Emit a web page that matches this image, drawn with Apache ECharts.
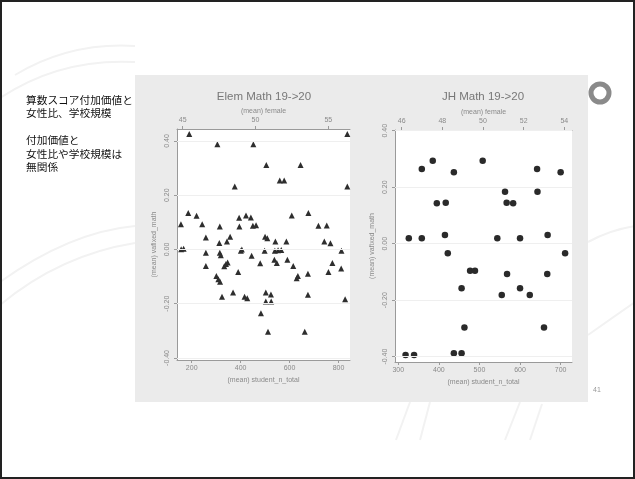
<!DOCTYPE html>
<html><head><meta charset="utf-8">
<script src="https://cdn.jsdelivr.net/npm/echarts@6/dist/echarts.min.js"></script>
<style>html,body{margin:0;padding:0;background:#fff}#c{width:635px;height:479px}</style>
</head><body><div id="c"></div>
<script>
// ---- data ----
const elemStudents = [190,836,305,452,505,645,560,578,376,836,
  186,220,156,243,315,395,394,422,442,450,463,609,677,718,752,
  258,313,344,357,500,509,542,587,742,767,
  157,167,258,315,319,405,401,498,540,553,566,812,
  445,480,538,548,591,615,258,333,340,347,390,629,634,675,759,775,811,
  301,309,316,324,369,416,427,503,524,503,525,675,827,483,512,662];
const elemVA = [0.426,0.426,0.388,0.388,0.311,0.311,0.254,0.254,0.232,0.232,
  0.134,0.124,0.093,0.093,0.085,0.085,0.117,0.125,0.118,0.087,0.089,0.125,0.134,0.087,0.088,
  0.044,0.024,0.029,0.047,0.047,0.041,0.029,0.029,0.029,0.023,
  0.001,0.003,-0.012,-0.012,-0.021,0.000,-0.005,-0.005,-0.005,-0.003,-0.002,-0.005,
  -0.023,-0.051,-0.038,-0.050,-0.038,-0.061,-0.061,-0.062,-0.054,-0.048,-0.083,-0.106,-0.098,-0.090,-0.083,-0.050,-0.070,
  -0.098,-0.110,-0.119,-0.174,-0.159,-0.174,-0.180,-0.159,-0.166,-0.192,-0.192,-0.167,-0.184,-0.235,-0.303,-0.303];

const jhStudents = [385,508,358,437,642,700,563,643,395,417,567,583,
  326,358,415,544,600,668,422,711,477,489,568,667,
  456,555,600,624,463,659,318,339,437,456];
const jhVA = [0.294,0.294,0.264,0.253,0.264,0.253,0.184,0.184,0.143,0.145,0.145,0.143,
  0.019,0.019,0.031,0.019,0.019,0.031,-0.034,-0.034,-0.096,-0.096,-0.107,-0.107,
  -0.158,-0.182,-0.158,-0.182,-0.297,-0.297,-0.394,-0.394,-0.388,-0.388];

const yTicks = [-0.4,-0.2,0,0.2,0.4];
const elemXTicks = [200,400,600,800];
const elemFemaleTicks = [45,50,55];
const jhXTicks = [300,400,500,600,700];
const jhFemaleTicks = [46,48,50,52,54];

const titles = ['Elem Math 19->20','JH Math 19->20'];
const slideLines = ['算数スコア付加価値と','女性比、学校規模','','付加価値と','女性比や学校規模は','無関係'];
const pageNo = '41';

// ---- chart ----
const AX = '#9a9a9a', TX = '#8a8a8a';
function yAxisCfg(gi, min, max){
  return {type:'value', gridIndex:gi, min, max,
    axisLine:{show:true, onZero:false, lineStyle:{color:AX}},
    axisTick:{show:true, length:3, customValues:yTicks, lineStyle:{color:AX}},
    axisLabel:{customValues:yTicks, rotate:90, fontSize:7, color:TX, margin:6, formatter:v=>v.toFixed(2)},
    splitLine:{show:false},
    name:'(mean) vafixed_math', nameLocation:'middle', nameGap:19, nameRotate:90,
    nameTextStyle:{fontSize:7, color:TX}};
}
function xAxisCfg(gi, pos, min, max, ticks, name, gap){
  return {type:'value', gridIndex:gi, position:pos, min, max,
    axisLine:{show:true, onZero:false, lineStyle:{color:AX}},
    axisTick:{show:true, length:3, customValues:ticks, lineStyle:{color:AX}},
    axisLabel:{customValues:ticks, fontSize:7, color:TX, margin:5},
    splitLine:{show:false},
    name, nameLocation:'middle', nameGap:gap, nameTextStyle:{fontSize:7, color:TX}};
}
function gridLines(){
  return {silent:true, symbol:['none','none'], label:{show:false}, animation:false,
    lineStyle:{color:'#efefef', type:'solid', width:1},
    data:yTicks.map(v=>({yAxis:v}))};
}
function swoosh(x1,y1,cx,cy,x2,y2){
  return {type:'bezierCurve', z:-20, shape:{x1,y1,x2,y2,cpx1:cx,cpy1:cy}, style:{fill:'none', stroke:'#f2f2f2', lineWidth:2}};
}
function stroke(x1,y1,x2,y2){
  return {type:'line', z:-20, shape:{x1,y1,x2,y2}, style:{stroke:'#f2f2f2', lineWidth:2}};
}

const graphic = [
  {type:'rect', z:-10, shape:{x:135,y:75,width:453,height:327}, style:{fill:'#ebebeb'}},
  swoosh(0,98,60,58,135,62),
  swoosh(15,75,70,42,135,46),
  swoosh(0,305,60,255,135,243),
  swoosh(0,282,70,232,135,226),
  swoosh(588,242,610,230,635,226),
  swoosh(588,335,612,318,635,302),
  stroke(396,440,410,402), stroke(420,440,430,402), stroke(505,440,520,402), stroke(530,440,542,404),
  {type:'rect', shape:{x:1,y:1,width:633,height:477}, style:{fill:'none', stroke:'#222', lineWidth:2}},
  {type:'circle', shape:{cx:600, cy:93, r:9}, style:{fill:'none', stroke:'#8a8a8a', lineWidth:5}},
  {type:'text', x:264, y:97, style:{text:titles[0], fontSize:11.5, fill:'#777', textAlign:'center', textVerticalAlign:'middle', fontFamily:'Liberation Sans'}},
  {type:'text', x:483, y:97, style:{text:titles[1], fontSize:11.5, fill:'#777', textAlign:'center', textVerticalAlign:'middle', fontFamily:'Liberation Sans'}},
  {type:'text', x:597, y:390, style:{text:pageNo, fontSize:7, fill:'#999', textAlign:'center', textVerticalAlign:'middle'}}
];
slideLines.forEach((t,i)=>{
  if(!t) return;
  graphic.push({type:'text', x:26, y:100 + i*13.4, style:{text:t, fontSize:10.7, fill:'#111', textVerticalAlign:'middle', fontFamily:'Noto Sans CJK JP'}});
});

const option = {
  animation:false,
  textStyle:{fontFamily:'Liberation Sans'},
  graphic,
  grid:[
    {left:177, top:129, width:173, height:231, show:true, backgroundColor:'#fff', borderWidth:0},
    {left:395, top:130, width:177, height:232, show:true, backgroundColor:'#fff', borderWidth:0}
  ],
  xAxis:[
    xAxisCfg(0,'bottom',140,847,elemXTicks,'(mean) student_n_total',17),
    xAxisCfg(0,'top',44.61,56.49,elemFemaleTicks,'(mean) female',14),
    xAxisCfg(1,'bottom',292,728,jhXTicks,'(mean) student_n_total',17),
    xAxisCfg(1,'top',45.67,54.38,jhFemaleTicks,'(mean) female',14)
  ],
  yAxis:[ yAxisCfg(0,-0.4075,0.444), yAxisCfg(1,-0.419,0.4025) ],
  series:[
    {type:'scatter', xAxisIndex:0, yAxisIndex:0, symbol:'triangle', symbolSize:6,
     itemStyle:{color:'#2e2e2e', opacity:1}, data:elemStudents.map((x,i)=>[x, elemVA[i]]), markLine:gridLines()},
    {type:'scatter', xAxisIndex:2, yAxisIndex:1, symbol:'circle', symbolSize:6.5,
     itemStyle:{color:'#2a2a2a', opacity:1}, data:jhStudents.map((x,i)=>[x, jhVA[i]]), markLine:gridLines()}
  ]
};
const chart = echarts.init(document.getElementById('c'), null, {renderer:'canvas'});
chart.setOption(option);
</script></body></html>
